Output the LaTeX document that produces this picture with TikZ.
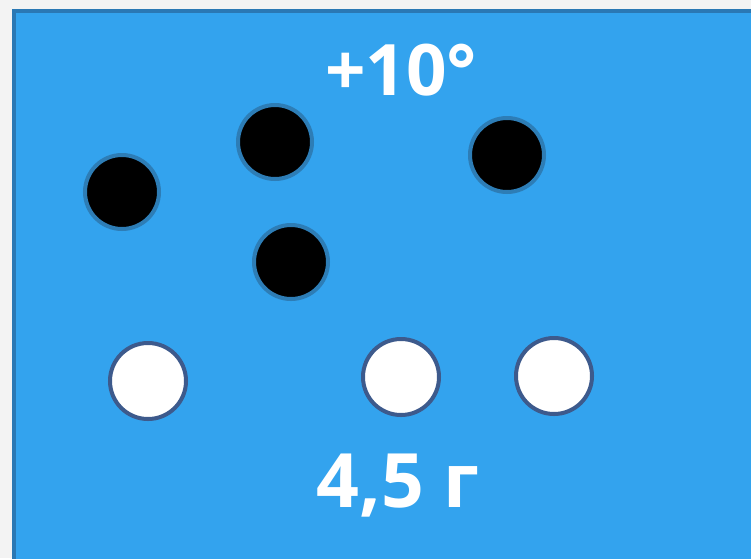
\documentclass[tikz,border=0pt]{standalone}
\usepackage{fontspec}
\setmainfont{Open Sans}
\definecolor{boardblue}{HTML}{33A3EE}
\definecolor{boardedge}{HTML}{2A78B4}
\definecolor{dotedge}{HTML}{2D7DB6}
\definecolor{ringedge}{HTML}{3D5A8C}
\definecolor{pagegray}{HTML}{F3F3F3}

\begin{document}
\begin{tikzpicture}[
  x=1pt, y=-1pt,
  label/.style ={text=white, font=\bfseries, inner sep=0pt},
  blackdot/.style={circle, fill=black, draw=dotedge, line width=4pt, minimum size=74pt, inner sep=0pt},
  whitedot/.style={circle, fill=white, draw=ringedge, line width=4pt, minimum size=76pt, inner sep=0pt},
]
% ---------------- page and board ----------------
\fill[pagegray] (0,0) rectangle (751,558);
\useasboundingbox (0,0) rectangle (751,558);
\fill[boardblue, draw=boardedge, line width=4pt] (14,11) rectangle (760,570);

% ---------------- labels ----------------
\node[label, font=\fontsize{71}{71}\bfseries\selectfont] (temp) at (401,70) {+10°};
\node[label, font=\fontsize{75}{75}\bfseries\selectfont] (mass) at (398,486) {4,5 г};

% ---------------- black dots ----------------
\node[blackdot] (b1) at (122,192) {};
\node[blackdot] (b2) at (275,142) {};
\node[blackdot] (b3) at (507,155) {};
\node[blackdot] (b4) at (291,262) {};

% ---------------- white dots ----------------
\node[whitedot] (w1) at (148,381) {};
\node[whitedot] (w2) at (401,377) {};
\node[whitedot] (w3) at (554,376) {};
\end{tikzpicture}
\end{document}
